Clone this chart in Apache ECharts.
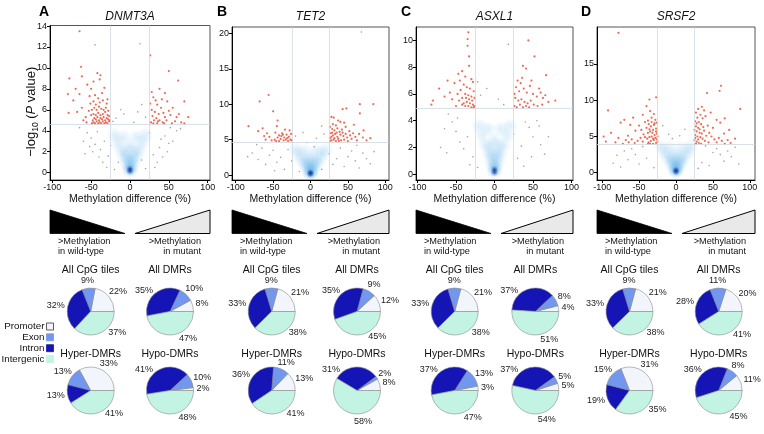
<!DOCTYPE html>
<html><head><meta charset="utf-8">
<script src="https://cdn.jsdelivr.net/npm/echarts@6/dist/echarts.min.js"></script>
<style>html,body{margin:0;padding:0;background:#fff}#c{width:764px;height:434px}</style>
</head><body><div id="c"></div>
<script>
// ---------- DATA ----------
const genes = ['DNMT3A', 'TET2', 'ASXL1', 'SRSF2'];
const panelLetters = ['A', 'B', 'C', 'D'];
const regionNames = ['Promoter', 'Exon', 'Intron', 'Intergenic'];
const pieTitles = ['All CpG tiles', 'All DMRs', 'Hyper-DMRs', 'Hypo-DMRs'];
const xTicks = [-100, -50, 0, 50, 100];
const yTicksA = [0, 2, 4, 6, 8, 10, 12, 14];
const yTicksB = [0, 5, 10, 15, 20];
const yTicksC = [0, 2, 4, 6, 8, 10];
const yTicksD = [0, 5, 10, 15];
const thresholds = [4.6, 4.7, 4.95, 3.9];   // -log10 P cut-off per panel
const diffCut = [-25, 25];                  // methylation difference cut-offs

// pie percentages: [Promoter, Exon, Intron, Intergenic] for All CpG, All DMRs, Hyper, Hypo
const pctA = [[22, 9, 32, 37], [8, 10, 35, 47], [33, 13, 13, 41], [2, 10, 41, 48]];
const pctB = [[21, 9, 33, 38], [12, 9, 35, 45], [13, 11, 36, 41], [8, 2, 31, 58]];
const pctC = [[21, 9, 33, 38], [4, 8, 37, 51], [3, 13, 37, 47], [5, 5, 37, 54]];
const pctD = [[21, 9, 33, 38], [20, 11, 28, 41], [31, 15, 19, 35], [11, 8, 36, 45]];

// density cloud of non-significant tiles (approximate sample of the blue cone)
const cloudPts = [[0,0.15],[-1.5,0.35],[1.5,0.35],[0,0.5],[-3,0.7],[3,0.7],[-5,1.1],[0,1.0],[5,1.1],[-8,1.6],[-3,1.5],[3,1.5],[8,1.6],[-12,2.2],[-5,2.1],[5,2.1],[12,2.2],[-16,2.9],[0,2.6],[16,2.9],[-20,3.6],[-8,3.4],[8,3.4],[20,3.6]];
const corePts = [[0,0.15],[0,0.35]];

const sigA = [[-49,4.7],[-47,4.8],[-45,4.7],[-43,4.9],[-41,4.7],[-39,4.8],[-37,4.7],[-35,4.9],[-33,4.7],[-31,4.8],[-29,4.7],[-27,4.9],[-48,5.0],[-46,5.2],[-44,5.1],[-42,5.3],[-40,5.0],[-38,5.2],[-36,5.1],[-34,5.3],[-32,5.0],[-30,5.2],[-28,5.1],[-26,5.0],[-50,5.5],[-47,5.6],[-44,5.5],[-41,5.7],[-38,5.5],[-35,5.6],[-32,5.8],[-29,5.5],[-27,5.4],[-49,6.0],[-46,6.2],[-43,6.0],[-40,6.3],[-37,6.1],[-34,6.0],[-31,6.2],[-28,5.9],[-51,6.6],[-47,6.8],[-44,6.5],[-39,6.7],[-35,6.9],[-30,6.6],[-52,7.3],[-45,7.4],[-41,7.1],[-36,7.6],[-29,7.0],[-55,8.4],[-50,8.0],[-47,8.7],[-42,9.5],[-39,8.9],[-38,9.3],[-33,8.1],[-57,5.3],[-60,5.0],[-62,6.2],[-65,7.5],[-63,10.1],[-62,9.2],[-65,13.5],[-70,8.0],[-78,9.0],[-80,7.5],[-79,5.7],[-73,6.9],[-68,5.8],[-56,4.8],[-53,5.9],
 [26,11.2],[50,9.7],[62,8.8],[38,8.0],[45,7.6],[30,7.2],[48,6.8],[70,6.8],[35,6.5],[40,6.2],[55,6.2],[28,6.0],[32,5.8],[43,5.7],[52,5.5],[60,5.3],[75,5.3],[34,5.2],[38,5.0],[47,5.0],[58,4.9],[27,4.8],[42,4.8],[66,4.8],[70,4.7],[30,4.7],[36,4.9],[54,4.7],[29,5.4],[45,5.3],[33,6.9],[41,7.0],[26,6.6],[31,5.0],[50,5.9],[63,5.6],[37,5.6],[28,7.7],[44,4.7],[35,4.7]];
const nsA = [[-45,12.2],[13,12.3],[-18,5.2],[-12,6.0],[15,6.5],[10,5.8],[-22,4.9],[20,5.3],[5,4.8],[-8,5.6],[-55,3.8],[-60,3.0],[-52,2.5],[-48,2.0],[-40,1.5],[-35,1.0],[-30,0.5],[-58,1.8],[-50,3.3],[-45,2.7],[-42,3.9],[-38,2.2],[-33,3.0],[-28,1.6],[-25,2.6],[45,3.5],[50,2.8],[48,2.0],[42,1.5],[35,1.0],[55,3.0],[60,4.0],[40,3.2],[38,2.4],[30,1.7],[25,3.8],[52,4.3],[32,0.5],[-20,0.3],[20,0.4],[-65,4.3],[65,4.2],[-15,1.0],[15,1.2]];

const sigB = [[-56,11.3],[-68,10.4],[-50,9.0],[-83,6.9],[-64,6.6],[-44,7.7],[-45,6.9],[-47,6.0],[-42,5.6],[-38,5.9],[-35,5.3],[-32,5.7],[-29,5.4],[-27,5.0],[-30,4.8],[-33,5.0],[-36,4.9],[-40,5.1],[-44,5.3],[-48,5.0],[-52,4.9],[-55,5.4],[-58,5.9],[-60,5.0],[-26,5.8],[-28,6.3],[-34,6.4],[-39,5.5],[-46,4.8],[-31,5.2],[-37,5.7],[-42,4.8],[-62,5.5],[-70,6.2],[-25,4.9],
 [84,10.0],[66,10.0],[48,9.4],[43,9.3],[66,8.7],[28,8.2],[31,8.1],[37,7.7],[40,7.5],[45,7.4],[30,7.2],[34,7.0],[26,6.8],[29,6.5],[32,6.3],[36,6.6],[39,6.1],[42,6.4],[47,6.8],[52,6.2],[57,5.9],[27,5.9],[30,5.6],[33,5.8],[36,5.4],[40,5.7],[44,5.5],[49,5.3],[55,5.1],[60,5.4],[65,5.8],[70,5.3],[75,4.9],[80,5.2],[26,5.2],[28,4.9],[31,5.0],[34,4.8],[37,5.1],[41,4.9],[45,5.0],[50,4.8],[28,5.4],[32,5.2],[26,4.8],[29,6.0],[35,6.0],[38,4.8],[43,6.0],[53,5.6],[62,4.9],[71,6.3],[58,7.1],[47,5.8]];
const nsB = [[68,20.2],[-20,5.5],[-10,6.0],[8,5.2],[18,5.8],[15,6.9],[-78,3.1],[-70,2.2],[-65,3.8],[-60,1.5],[-55,2.8],[-50,3.5],[-45,1.8],[-40,2.5],[-35,0.8],[-30,3.6],[-25,2.0],[-48,0.6],[-72,4.3],[-84,2.6],[25,3.0],[30,1.5],[35,2.3],[40,3.8],[45,1.2],[50,2.6],[55,3.4],[60,2.0],[65,1.0],[70,3.1],[75,2.3],[80,1.6],[85,3.3],[62,4.2],[-15,0.5],[15,0.8],[-5,4.6],[5,4.0]];

const sigC = [[-34,10.6],[-35,10.1],[-35,9.6],[-33,8.8],[-33,8.1],[-42,7.7],[-38,7.3],[-45,7.0],[-30,7.1],[-28,6.9],[-40,6.7],[-36,6.5],[-32,6.4],[-27,6.2],[-44,6.3],[-48,6.0],[-38,6.0],[-34,5.9],[-30,5.8],[-26,5.7],[-42,5.7],[-46,5.5],[-36,5.4],[-32,5.3],[-28,5.2],[-26,5.1],[-30,5.0],[-34,5.1],[-38,5.1],[-42,5.2],[-50,5.1],[-55,5.6],[-61,7.0],[-58,6.1],[-65,5.8],[-72,6.4],[-80,5.5],[-82,5.2],[-52,6.8],[-47,7.5],[-29,5.5],[-33,5.6],[-37,5.7],[-40,5.3],[-27,5.0],
 [44,10.0],[52,8.8],[37,8.1],[41,7.9],[67,7.4],[79,5.5],[30,7.0],[34,6.8],[28,6.5],[32,6.2],[38,6.4],[42,6.1],[46,6.6],[50,6.0],[55,5.8],[60,6.1],[63,5.7],[66,5.9],[27,5.7],[31,5.5],[35,5.6],[39,5.4],[43,5.3],[47,5.5],[51,5.2],[56,5.1],[26,5.1],[29,5.0],[33,5.2],[37,5.0],[41,5.1],[45,5.0],[62,5.2],[70,5.4],[36,7.2],[48,7.0],[58,6.4],[26,6.0]];
const nsC = [[-10,6.4],[-22,6.9],[-18,5.9],[18,9.7],[12,5.2],[5,5.6],[-60,4.5],[-55,3.9],[-50,3.2],[-45,2.4],[-40,1.9],[-35,2.8],[-65,3.4],[-70,2.0],[-28,1.3],[-48,4.2],[-62,1.6],[-32,0.7],[-22,0.5],[45,3.5],[50,2.8],[40,3.9],[35,2.1],[55,4.0],[60,2.2],[30,1.2],[25,3.0],[65,1.5],[48,1.3],[58,3.6],[38,0.6],[70,2.8]];

const sigD = [[-78,19.3],[-27,10.4],[-36,10.1],[-40,9.2],[-45,8.0],[-35,8.5],[-30,8.1],[-33,7.6],[-28,7.3],[-38,7.2],[-42,7.0],[-26,6.9],[-30,6.6],[-34,6.4],[-37,6.7],[-40,6.2],[-27,6.1],[-31,5.9],[-35,5.7],[-38,5.5],[-26,5.4],[-29,5.2],[-33,5.0],[-36,4.9],[-39,4.7],[-26,4.6],[-30,4.5],[-34,4.4],[-37,4.2],[-27,4.1],[-31,4.0],[-35,4.0],[-28,4.8],[-32,5.5],[-36,6.0],[-29,6.8],[-33,7.0],[-25,5.0],[-25,4.3],[-27,5.7],[-31,4.7],[-38,4.0],[-44,5.3],[-48,4.8],[-52,4.4],[-56,4.1],[-60,4.6],[-64,4.2],[-68,4.5],[-72,4.0],[-50,6.5],[-55,5.8],[-62,6.6],[-70,7.3],[-75,6.9],[-58,7.6],[-45,4.3],[-42,4.9],[-47,5.9],[-92,8.6],[-98,5.0],[-95,4.3],[-88,5.5],[-82,4.2],[-78,4.8],[-65,5.1],
 [61,12.0],[59,11.3],[42,11.0],[87,8.8],[35,9.1],[30,8.8],[38,8.6],[27,8.3],[33,8.0],[29,7.6],[36,7.5],[26,7.1],[31,7.0],[34,6.7],[27,6.4],[30,6.2],[37,6.3],[25,5.9],[28,5.7],[32,5.5],[35,5.4],[38,5.8],[26,5.2],[29,5.0],[33,4.9],[36,4.7],[25,4.5],[28,4.3],[31,4.1],[34,4.0],[27,4.0],[30,4.6],[39,4.4],[26,4.8],[32,6.0],[28,6.8],[40,7.8],[43,6.5],[45,5.5],[48,5.0],[52,4.6],[55,4.2],[58,4.8],[62,4.4],[66,4.0],[70,4.5],[74,4.1],[50,6.2],[55,7.3],[60,6.9],[65,5.4],[72,5.9],[80,4.7],[44,4.2],[41,5.1],[47,8.3],[66,7.5]];
const nsD = [[-10,5.3],[5,5.1],[-18,6.5],[12,6.0],[-5,4.7],[-60,3.3],[-55,2.5],[-65,1.8],[-70,3.0],[-80,2.4],[-85,1.3],[-50,1.2],[-45,3.6],[-40,2.0],[-30,0.7],[-75,0.8],[55,3.3],[60,2.5],[65,1.6],[70,3.0],[75,2.2],[80,3.5],[45,1.0],[50,2.8],[40,3.7],[35,1.4],[30,0.6],[85,1.2]];

// ---------- LAYOUT / STYLE ----------
const FONT = 'Liberation Sans, Arial, Helvetica, sans-serif';
const regionColors = ['#f2f5fb', '#7198ee', '#1515b5', '#c3f4e3'];
const panels = [
  {left: 50,  right: 210, top: 25.5, xr: [-103, 103], yr: [-0.7, 14.05], yt: yTicksA, sig: sigA, ns: nsA, pct: pctA, pieX: [90.7, 170], letterX: 44},
  {left: 232, right: 389, top: 27,   xr: [-105, 105], yr: [-0.7, 20.9],  yt: yTicksB, sig: sigB, ns: nsB, pct: pctB, pieX: [271.7, 357], letterX: 222},
  {left: 416, right: 573, top: 27,   xr: [-102, 102], yr: [-0.43, 11.0], yt: yTicksC, sig: sigC, ns: nsC, pct: pctC, pieX: [454.7, 535.3], letterX: 406},
  {left: 597, right: 755, top: 27,   xr: [-107, 107], yr: [-1.0, 20.1],  yt: yTicksD, sig: sigD, ns: nsD, pct: pctD, pieX: [629.5, 718.7], letterX: 586}
];
const BOTTOM = 180;
const pieY = [311.5, 390.5];
const pieTitleY = [270, 354];
const PIE_R = 23.5;

const grids = [], xAxes = [], yAxes = [], series = [], graphics = [];

panels.forEach((p, i) => {
  grids.push({left: p.left, top: p.top, width: p.right - p.left, height: BOTTOM - p.top,
    show: true, borderColor: '#555', borderWidth: 1, backgroundColor: 'transparent'});
  xAxes.push({type: 'value', gridIndex: i, min: p.xr[0], max: p.xr[1],
    name: 'Methylation difference (%)', nameLocation: 'middle', nameGap: 14, nameMoveOverlap: false,
    nameTextStyle: {fontFamily: FONT, fontSize: 10.5, color: '#111'},
    axisLine: {show: true, onZero: false, lineStyle: {color: '#000', width: 1}},
    axisTick: {show: true, length: 3, customValues: xTicks, lineStyle: {color: '#000'}},
    axisLabel: {customValues: xTicks, fontFamily: FONT, fontSize: 9, color: '#111', margin: 3},
    splitLine: {show: false}});
  const ya = {type: 'value', gridIndex: i, min: p.yr[0], max: p.yr[1],
    axisLine: {show: true, onZero: false, lineStyle: {color: '#000', width: 1}},
    axisTick: {show: true, length: 3, customValues: p.yt, lineStyle: {color: '#000'}},
    axisLabel: {customValues: p.yt, fontFamily: FONT, fontSize: 9, color: '#111', margin: 3},
    splitLine: {show: false}};
  if (i === 0) {
    ya.name = '−log{s|10} ({it|P} value)';
    ya.nameLocation = 'middle';
    ya.nameGap = 10;
    ya.nameMoveOverlap = false;
    ya.nameTextStyle = {fontFamily: FONT, fontSize: 13, color: '#111', lineHeight: 18, padding: [0, 18, 0, 0],
      rich: {s: {fontFamily: FONT, fontSize: 8.5, verticalAlign: 'bottom', lineHeight: 9, color: '#111'},
             it: {fontFamily: FONT, fontSize: 13, fontStyle: 'italic', color: '#111', lineHeight: 18}}};
  }
  yAxes.push(ya);

  // density cloud + threshold lines
  series.push({type: 'scatter', xAxisIndex: i, yAxisIndex: i, data: cloudPts, symbolSize: 16, silent: true,
    itemStyle: {color: {type: 'radial', x: 0.5, y: 0.5, r: 0.5,
      colorStops: [{offset: 0, color: 'rgba(70,165,230,0.24)'}, {offset: 1, color: 'rgba(70,165,230,0)'}]}},
    markLine: {silent: true, symbol: ['none', 'none'], label: {show: false},
      lineStyle: {color: '#cfd9e2', width: 0.8, type: 'solid'},
      data: [{yAxis: thresholds[i]}, {xAxis: diffCut[0]}, {xAxis: diffCut[1]}]},
    z: 1});
  series.push({type: 'scatter', xAxisIndex: i, yAxisIndex: i, data: corePts, symbolSize: 8, silent: true,
    itemStyle: {color: {type: 'radial', x: 0.5, y: 0.5, r: 0.5,
      colorStops: [{offset: 0, color: 'rgba(5,30,130,0.95)'}, {offset: 1, color: 'rgba(20,90,200,0)'}]}}, z: 2});
  series.push({type: 'scatter', xAxisIndex: i, yAxisIndex: i, data: p.ns, symbolSize: 1.6, silent: true,
    itemStyle: {color: 'rgba(100,100,100,0.75)'}, z: 3});
  series.push({type: 'scatter', xAxisIndex: i, yAxisIndex: i, data: p.sig, symbolSize: 2.2, silent: true,
    itemStyle: {color: '#e8462a'}, z: 4});

  // pies
  p.pct.forEach((vals, k) => {
    const cx = p.pieX[k % 2], cy = pieY[Math.floor(k / 2)];
    const total = vals.reduce((a, b) => a + b, 0);
    series.push({type: 'pie', center: [cx, cy], radius: PIE_R, startAngle: 0, clockwise: false,
      avoidLabelOverlap: false, silent: true, animation: false,
      itemStyle: {borderColor: '#8a8a8a', borderWidth: 0.6},
      label: {show: true, position: 'outside', formatter: d => d.value + '%',
        fontFamily: FONT, fontSize: 9, color: '#222'},
      labelLine: {show: false},
      emphasis: {disabled: true},
      data: vals.map((v, j) => ({name: regionNames[j], value: v, itemStyle: {color: regionColors[j]}})),
      labelLayout: function (prm) {
        const j = prm.dataIndex;
        let start = 0;
        for (let q = 0; q < j; q++) start += vals[q];
        let mid = (start + vals[j] / 2) / total * 360;
        if (j === 3) mid += 25;
        if (j === 2) mid = Math.max(mid, 137);
        const a = mid * Math.PI / 180, c = Math.cos(a), s = Math.sin(a);
        const hw = (String(vals[j]).length + 1.6) * 2.5, hh = 4.5, r = PIE_R + 3;
        return {x: cx + r * c + hw * c, y: cy - r * s - hh * s, align: 'center', verticalAlign: 'middle'};
      }});
    graphics.push({type: 'text', x: cx, y: pieTitleY[Math.floor(k / 2)], silent: true,
      style: {text: pieTitles[k], font: '10.5px ' + FONT, fill: '#111', align: 'center', verticalAlign: 'middle'}});
  });

  // titles
  graphics.push({type: 'text', x: p.letterX, y: 12, silent: true,
    style: {text: panelLetters[i], font: 'bold 14px ' + FONT, fill: '#000', align: 'center', verticalAlign: 'middle'}});
  graphics.push({type: 'text', x: (p.left + p.right) / 2, y: 17, silent: true,
    style: {text: genes[i], font: 'italic 12px ' + FONT, fill: '#111', align: 'center', verticalAlign: 'middle'}});

  // wedges
  const L = p.left, R = p.right, T = 210, B = 233.5;
  graphics.push({type: 'polygon', silent: true, shape: {points: [[L, T], [L, B], [L + 75, B]]},
    style: {fill: '#000', stroke: '#000', lineWidth: 0.8}});
  graphics.push({type: 'polygon', silent: true, shape: {points: [[L + 85, B], [R, T], [R, B]]},
    style: {fill: '#e9e9e9', stroke: '#000', lineWidth: 1}});
  graphics.push({type: 'text', x: L + 8, y: 241, silent: true,
    style: {text: '>Methylation', font: '9.2px ' + FONT, fill: '#111', align: 'left', verticalAlign: 'middle'}});
  graphics.push({type: 'text', x: L + 8, y: 251.5, silent: true,
    style: {text: 'in wild-type', font: '9.2px ' + FONT, fill: '#111', align: 'left', verticalAlign: 'middle'}});
  graphics.push({type: 'text', x: R - 9, y: 241, silent: true,
    style: {text: '>Methylation', font: '9.2px ' + FONT, fill: '#111', align: 'right', verticalAlign: 'middle'}});
  graphics.push({type: 'text', x: R - 9, y: 251.5, silent: true,
    style: {text: 'in mutant', font: '9.2px ' + FONT, fill: '#111', align: 'right', verticalAlign: 'middle'}});
});

// legend (region key) in panel A
const legY = [326.5, 337.3, 348.2, 359];
regionNames.forEach((n, j) => {
  graphics.push({type: 'text', x: 44.5, y: legY[j], silent: true,
    style: {text: n, font: '9.8px ' + FONT, fill: '#111', align: 'right', verticalAlign: 'middle'}});
  graphics.push({type: 'rect', silent: true, shape: {x: 46.5, y: legY[j] - 3.5, width: 7, height: 7},
    style: {fill: regionColors[j], stroke: j === 0 ? '#333' : regionColors[j], lineWidth: 0.8}});
});

const chart = echarts.init(document.getElementById('c'), null, {renderer: 'canvas'});
chart.setOption({
  animation: false,
  backgroundColor: '#fff',
  grid: grids, xAxis: xAxes, yAxis: yAxes, series: series, graphic: graphics
});
</script></body></html>
